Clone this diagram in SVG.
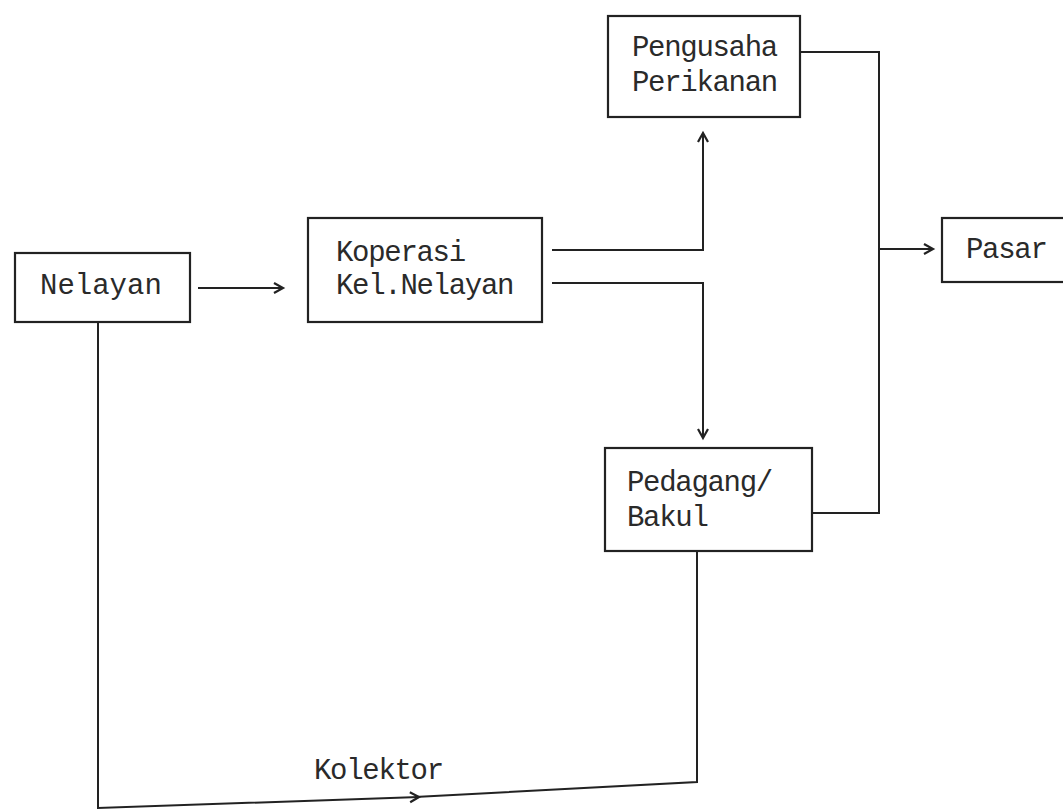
<svg xmlns="http://www.w3.org/2000/svg" width="1063" height="812" viewBox="0 0 1063 812">
<style>
.box{fill:#fff;stroke:#222;stroke-width:2.2}
.t{font-family:"Liberation Mono","Courier New",monospace;font-size:29px;letter-spacing:-1.3px;fill:#2a2a2a}
.c{fill:none;stroke:#222;stroke-width:2}
</style>
<defs>
<marker id="chev" markerUnits="userSpaceOnUse" markerWidth="16" markerHeight="16" viewBox="0 0 16 16" refX="13" refY="8" orient="auto">
<path d="M4,3 L13,8 L4,13" fill="none" stroke="#222" stroke-width="2.2"/>
</marker>
</defs>
<rect width="1063" height="812" fill="#fff"/>
<g id="connectors">
<path class="c" d="M198,288 H283" marker-end="url(#chev)"/>
<path class="c" d="M552,250 H703 V133" marker-end="url(#chev)"/>
<path class="c" d="M552,283 H703 V438" marker-end="url(#chev)"/>
<path class="c" d="M800,52 H879 V513 H812"/>
<path class="c" d="M879,249 H933" marker-end="url(#chev)"/>
<path class="c" d="M98,323 V808 L419,797" marker-end="url(#chev)"/>
<path class="c" d="M415,797 L697,782 V552"/>
</g>
<g id="nelayan">
<rect class="box" x="15" y="253" width="175" height="69"/>
<text class="t" x="40" y="294" style="letter-spacing:0">Nelayan</text>
</g>
<g id="koperasi">
<rect class="box" x="308" y="218" width="234" height="104"/>
<text class="t" x="336" y="261">Koperasi</text>
<text class="t" x="336" y="294">Kel.Nelayan</text>
</g>
<g id="pengusaha">
<rect class="box" x="608" y="16" width="192" height="101"/>
<text class="t" x="632" y="56">Pengusaha</text>
<text class="t" x="632" y="91">Perikanan</text>
</g>
<g id="pedagang">
<rect class="box" x="605" y="448" width="207" height="103"/>
<text class="t" x="627" y="491">Pedagang/</text>
<text class="t" x="627" y="526">Bakul</text>
</g>
<g id="pasar">
<rect class="box" x="942" y="218" width="140" height="64"/>
<text class="t" x="966" y="258">Pasar</text>
</g>
<g id="kolektor-label">
<text class="t" x="314" y="779">Kolektor</text>
</g>
</svg>
